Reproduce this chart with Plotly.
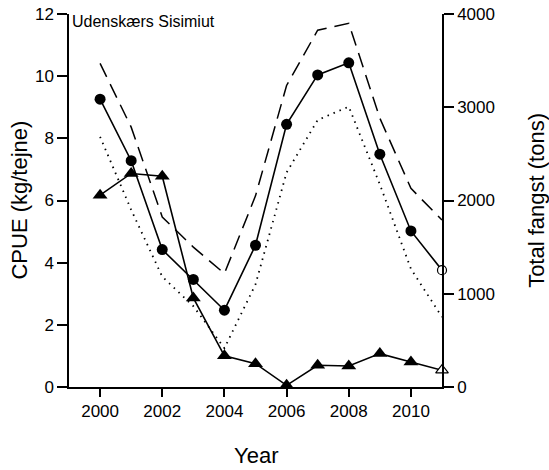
import plotly.graph_objects as go

years = [2000, 2001, 2002, 2003, 2004, 2005, 2006, 2007, 2008, 2009, 2010, 2011]
cpue = [9.26, 7.28, 4.42, 3.46, 2.47, 4.56, 8.45, 10.04, 10.43, 7.49, 5.02, 3.76]
cpue_upper = [10.41, 8.36, 5.47, 4.5, 3.65, 6.15, 9.7, 11.48, 11.7, 8.65, 6.39, 5.37]
cpue_lower = [8.05, 5.7, 3.55, 2.6, 1.25, 3.3, 6.9, 8.59, 9.02, 6.52, 3.8, 2.25]
catch_tons = [2057, 2290, 2260, 955, 335, 250, 18, 233, 225, 358, 268, 180]

x_ticks = [2000, 2002, 2004, 2006, 2008, 2010]
y_left_ticks = [0, 2, 4, 6, 8, 10, 12]
y_right_ticks = [0, 1000, 2000, 3000, 4000]
panel_label = "Udenskærs Sisimiut"

W, H = 549, 470
plot_left, plot_right, plot_top, plot_bottom = 69, 442.5, 14, 387
L, T = plot_left, plot_top
R = W - plot_right
B = H - plot_bottom
pw, ph = plot_right - plot_left, plot_bottom - plot_top

def px_x(p):
    return (p - plot_left) / pw

def px_y(p):
    return (plot_bottom - p) / ph

FONT = "Liberation Sans, Arial, sans-serif"
fig = go.Figure()

fig.add_trace(go.Scatter(x=years, y=cpue_upper, mode="lines",
                         line=dict(color="black", width=1.5, dash="15px,8px"),
                         showlegend=False, hoverinfo="skip"))
fig.add_trace(go.Scatter(x=years, y=cpue_lower, mode="lines",
                         line=dict(color="black", width=1.8, dash="1.5px,5px"),
                         showlegend=False, hoverinfo="skip"))
fig.add_trace(go.Scatter(x=years, y=cpue, mode="lines",
                         line=dict(color="black", width=1.6),
                         showlegend=False))
fig.add_trace(go.Scatter(x=years[:-1], y=cpue[:-1], mode="markers",
                         marker=dict(color="black", size=11, symbol="circle"),
                         showlegend=False, cliponaxis=False))
fig.add_trace(go.Scatter(x=years[-1:], y=cpue[-1:], mode="markers",
                         marker=dict(color="white", size=9, symbol="circle",
                                     line=dict(color="black", width=1.2)),
                         showlegend=False, cliponaxis=False))

fig.add_trace(go.Scatter(x=years, y=catch_tons, mode="lines", yaxis="y2",
                         line=dict(color="black", width=1.6),
                         showlegend=False))
fig.add_trace(go.Scatter(x=years[:-1], y=catch_tons[:-1], mode="markers", yaxis="y2",
                         marker=dict(color="black", size=13, symbol="triangle-up"),
                         showlegend=False, cliponaxis=False))
fig.add_trace(go.Scatter(x=years[-1:], y=catch_tons[-1:], mode="markers", yaxis="y2",
                         marker=dict(color="white", size=11, symbol="triangle-up",
                                     line=dict(color="black", width=1.2)),
                         showlegend=False, cliponaxis=False))

axis_common = dict(showgrid=False, zeroline=False, showline=True, linecolor="black",
                   linewidth=1.5, ticks="outside", tickcolor="black", tickwidth=1.5,
                   automargin=False, ticklabeloverflow="allow",
                   tickfont=dict(family=FONT, size=17, color="black"))

fig.update_layout(
    template="none",
    width=W, height=H,
    margin=dict(l=L, r=R, t=T, b=B, pad=0),
    paper_bgcolor="white", plot_bgcolor="white",
    xaxis=dict(range=[1999.0, 2011.0], tickvals=x_ticks, ticklen=8, **axis_common),
    yaxis=dict(range=[0, 12], tickvals=y_left_ticks, ticklen=10, **axis_common),
    yaxis2=dict(range=[0, 4000], tickvals=y_right_ticks, ticklen=10, overlaying="y",
                side="right", **axis_common),
    annotations=[
        dict(text=panel_label, xref="paper", yref="paper", x=px_x(70), y=px_y(21),
             xanchor="left", yanchor="middle", showarrow=False,
             font=dict(family=FONT, size=16, color="black")),
        dict(text="Year", xref="paper", yref="paper", x=0.5, y=px_y(455),
             xanchor="center", yanchor="middle", showarrow=False,
             font=dict(family=FONT, size=22, color="black")),
        dict(text="CPUE (kg/tejne)", xref="paper", yref="paper", x=px_x(19), y=0.5,
             xanchor="center", yanchor="middle", showarrow=False, textangle=-90,
             font=dict(family=FONT, size=22, color="black")),
        dict(text="Total fangst (tons)", xref="paper", yref="paper", x=px_x(537), y=0.5,
             xanchor="center", yanchor="middle", showarrow=False, textangle=-90,
             font=dict(family=FONT, size=22, color="black")),
    ],
)

fig.write_html("out.html", config={"displayModeBar": False},
               post_script="document.body.style.margin='0';")
